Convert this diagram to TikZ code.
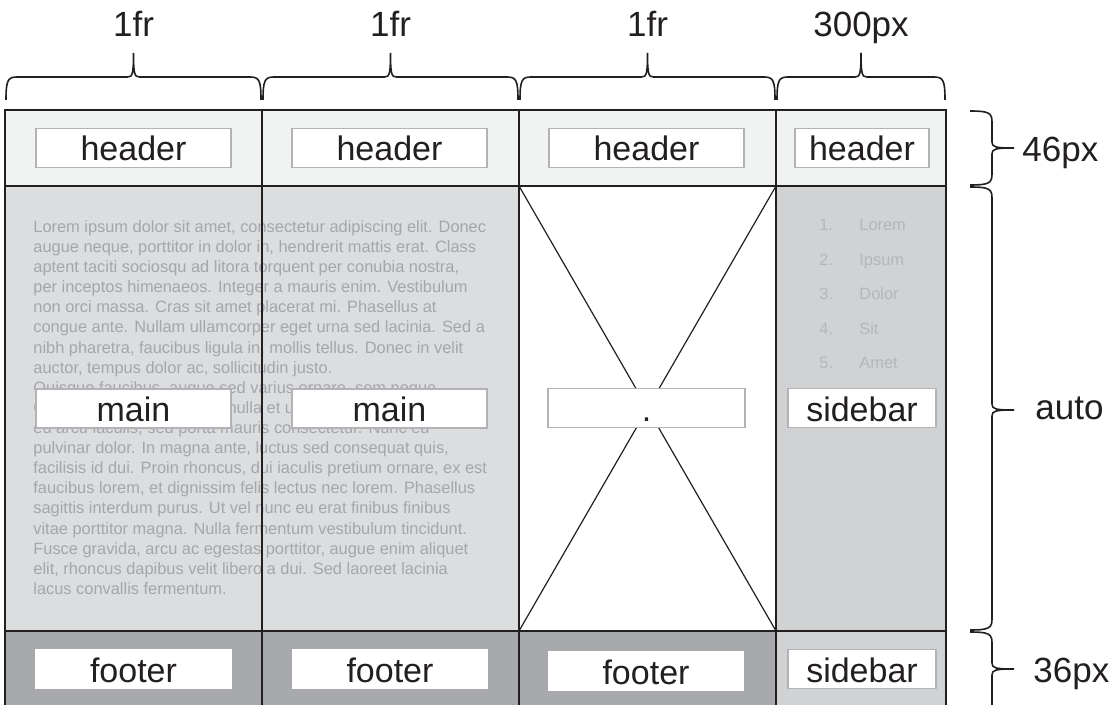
\documentclass[tikz,border=0pt]{standalone}
\usepackage{fontspec}
\setmainfont{Liberation Sans}
\usetikzlibrary{positioning}

\definecolor{headfill}{HTML}{F1F2F2}
\definecolor{mainfill}{HTML}{DCDDDF}
\definecolor{sidefill}{HTML}{D1D2D4}
\definecolor{footfill}{HTML}{A7A9AC}
\definecolor{boxgrey}{HTML}{B1B3B6}
\definecolor{loremgrey}{HTML}{A4A6A9}
\definecolor{listgrey}{HTML}{B5B6B9}
\definecolor{inkblack}{HTML}{231F20}

\tikzset{
  cellline/.style={line width=1pt, draw=inkblack},
  crossline/.style={line width=0.6pt, draw=inkblack},
  lblbox/.style={draw=boxgrey, line width=0.7pt, fill=white, text=inkblack,
    minimum width=97.5pt, minimum height=19.5pt, inner sep=0pt,
    text height=13pt, text depth=0pt, font=\fontsize{17}{20}\selectfont},
  ftbox/.style={lblbox, draw=white},
  dimlabel/.style={inner sep=0pt, text=inkblack, font=\fontsize{17.5}{20}\selectfont},
  brc/.style={line width=0.8pt, draw=inkblack},
  lorem/.style={anchor=base west, inner sep=0pt, text=loremgrey, font=\fontsize{8.2}{10}\selectfont},
  listitem/.style={anchor=base west, inner sep=0pt, text=listgrey, font=\fontsize{8.2}{10}\selectfont},
}

\begin{document}
\begin{tikzpicture}[x=0.5pt, y=-0.5pt]
  \useasboundingbox (0,0) rectangle (1118,705);
  \clip (0,0) rectangle (1118,705);

  % Vlakken van het raster
  \fill[headfill] (5,110) rectangle (946,186);
  \fill[mainfill] (5,186) rectangle (519,631);
  \fill[white] (519,186) rectangle (776,631);
  \fill[sidefill] (776,186) rectangle (946,631);
  \fill[footfill] (5,631) rectangle (776,714);
  \fill[sidefill] (776,631) rectangle (946,714);

  % Opvultekst in main
  \foreach \txt [count=\i] in {
      {Lorem ipsum dolor sit amet, consectetur adipiscing elit. Donec},
      {augue neque, porttitor in dolor in, hendrerit mattis erat. Class},
      {aptent taciti sociosqu ad litora torquent per conubia nostra,},
      {per inceptos himenaeos. Integer a mauris enim. Vestibulum},
      {non orci massa. Cras sit amet placerat mi. Phasellus at},
      {congue ante. Nullam ullamcorper eget urna sed lacinia. Sed a},
      {nibh pharetra, faucibus ligula in, mollis tellus. Donec in velit},
      {auctor, tempus dolor ac, sollicitudin justo.},
      {Quisque faucibus, augue sed varius ornare, sem neque},
      {Cras vehicula ornare velit, nulla et ultricies,},
      {eu arcu iaculis, sed porta mauris consectetur. Nunc eu},
      {pulvinar dolor. In magna ante, luctus sed consequat quis,},
      {facilisis id dui. Proin rhoncus, dui iaculis pretium ornare, ex est},
      {faucibus lorem, et dignissim felis lectus nec lorem. Phasellus},
      {sagittis interdum purus. Ut vel nunc eu erat finibus finibus},
      {vitae porttitor magna. Nulla fermentum vestibulum tincidunt.},
      {Fusce gravida, arcu ac egestas porttitor, augue enim aliquet},
      {elit, rhoncus dapibus velit libero a dui. Sed laoreet lacinia},
      {lacus convallis fermentum.}}
    \node[lorem] (ln\i) at (33,232.5+20.1*\i-20.1) {\txt};

  % Lijst in de sidebar
  \foreach \w [count=\n] in {Lorem, Ipsum, Dolor, Sit, Amet} {
    \node[listitem] (nr\n) at (819,231+34.4*\n-34.4) {\n.};
    \node[listitem] (it\n) at (859,231+34.4*\n-34.4) {\w};
  }

  % Rasterlijnen
  \coordinate (tl) at (5,110);
  \coordinate (tr) at (946,110);
  \draw[cellline] (5,714) -- (tl) -- (tr) -- (946,714);
  \draw[cellline] (5,186) -- (946,186);
  \draw[cellline] (5,631) -- (946,631);
  \foreach \x in {262,519,776}
    \draw[cellline] (\x,110) -- (\x,714);

  % Kruis in de lege cel
  \coordinate (xa) at (519,186);
  \coordinate (xb) at (776,186);
  \coordinate (xc) at (519,631);
  \coordinate (xd) at (776,631);
  \draw[crossline] (xa) -- (xd);
  \draw[crossline] (xb) -- (xc);

  % Labels in de cellen
  \node[lblbox] (hd1) at (133.5,148) {header};
  \node[lblbox] (hd2) at (389.5,148) {header};
  \node[lblbox] (hd3) at (646.5,148) {header};
  \node[lblbox, minimum width=67pt] (hd4) at (862,148) {header};
  \node[lblbox] (mn1) at (133.5,408.5) {main};
  \node[lblbox] (mn2) at (389.5,408.5) {main};
  \node[lblbox, minimum width=98.5pt] (dot) at (646.5,408) {.};
  \node[lblbox, minimum width=74pt] (sb1) at (862,408) {sidebar};
  \node[ftbox] (ft1) at (133.5,669) {footer};
  \node[ftbox] (ft2) at (390,669) {footer};
  \node[ftbox] (ft3) at (646,671) {footer};
  \node[lblbox, minimum width=74pt] (sb2) at (862,669) {sidebar};

  % Accolades boven de kolommen
  \foreach \a/\b/\t [count=\k] in {5/262/1fr, 262/519/1fr, 519/776/1fr, 776/946/300px} {
    \pgfmathsetmacro\m{(\a+\b)/2}
    \draw[brc] (\a+1,100) .. controls (\a+1,80) and (\a+3,77) .. (\a+12,77)
      -- (\m-6,77) .. controls (\m-1,77) and (\m,74) .. (\m,53)
      .. controls (\m,74) and (\m+1,77) .. (\m+6,77)
      -- (\b-12,77) .. controls (\b-3,77) and (\b-1,80) .. (\b-1,100);
    \node[dimlabel, anchor=base] (col\k) at (\m,37) {\t};
  }

  % Accolades naast de rijen
  \foreach \a/\b/\m/\lx/\ly/\t [count=\k] in
      {110/186/148/1022/162/46px, 186/631/410/1035/419/auto, 631/716/669/1033/682/36px} {
    \draw[brc] (970,\a+1) .. controls (989,\a+1) and (992,\a+3) .. (992,\a+12)
      -- (992,\m-6) .. controls (992,\m-1) and (995,\m) .. (1014,\m)
      .. controls (995,\m) and (992,\m+1) .. (992,\m+6)
      -- (992,\b-12) .. controls (992,\b-3) and (989,\b-1) .. (970,\b-1);
    \node[dimlabel, anchor=base west] (row\k) at (\lx,\ly) {\t};
  }
\end{tikzpicture}
\end{document}
